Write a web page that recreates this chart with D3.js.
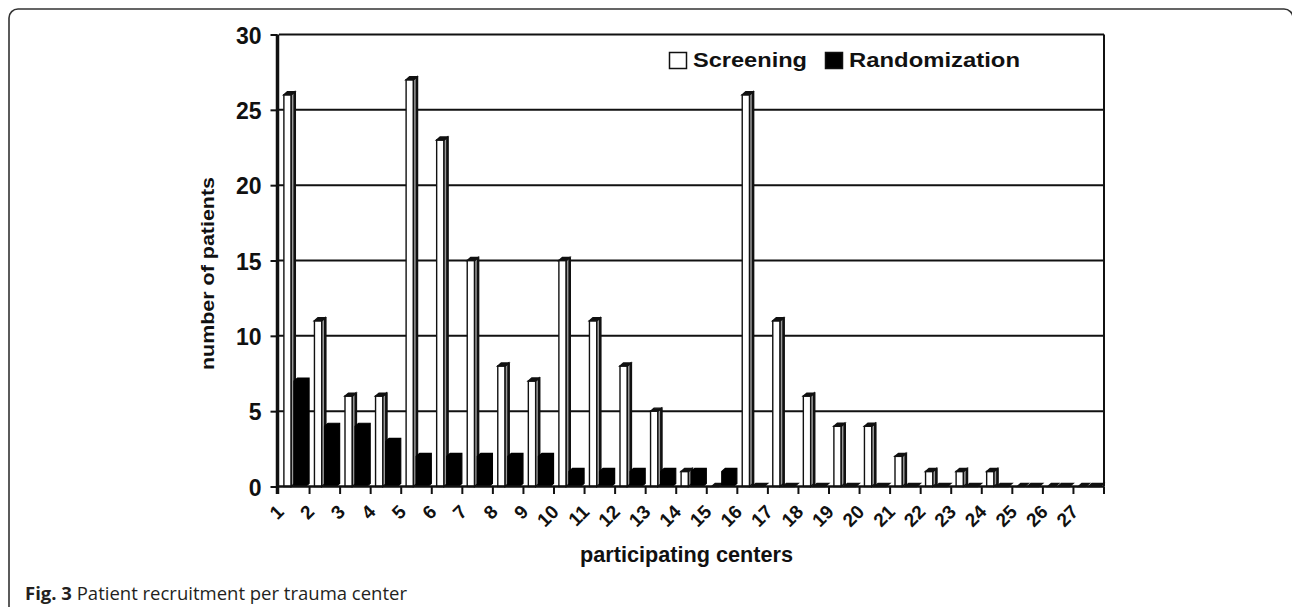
<!DOCTYPE html>
<html><head><meta charset="utf-8">
<script src="https://cdnjs.cloudflare.com/ajax/libs/d3/7.8.5/d3.min.js"></script>
<style>body{margin:0;background:#fff}svg{display:block}</style>
</head><body>
<script>
// ---- data ----
const centers = ["1","2","3","4","5","6","7","8","9","10","11","12","13","14","15","16","17","18","19","20","21","22","23","24","25","26","27"];
const screening = [26,11,6,6,27,23,15,8,7,15,11,8,5,1,0,26,11,6,4,4,2,1,1,1,0,0,0];
const randomization = [7,4,4,3,2,2,2,2,2,1,1,1,1,1,1,0,0,0,0,0,0,0,0,0,0,0,0];
const yTicks = [0,5,10,15,20,25,30];
const seriesNames = ["Screening","Randomization"];

const W = 1292, H = 607;
const svg = d3.select("body").append("svg").attr("width", W).attr("height", H);
const FONT = "'Liberation Sans', Arial, sans-serif";

// figure frame
svg.append("rect").attr("x", 9).attr("y", 9).attr("width", 1284).attr("height", 700)
  .attr("rx", 9).attr("fill", "none").attr("stroke", "#333").attr("stroke-width", 1.6);

const pL = 279, pR = 1104, pT = 34.5, pB = 486.5;
const x = d3.scaleBand().domain(centers).range([pL, pR]).paddingInner(0).paddingOuter(0);
const y = d3.scaleLinear().domain([0, 30]).range([pB, pT]);
const bw = x.bandwidth();

// gridlines
svg.append("g").selectAll("line").data(yTicks.filter(d => d > 0)).join("line")
  .attr("x1", pL).attr("x2", pR).attr("y1", d => y(d)).attr("y2", d => y(d))
  .attr("stroke", "#111").attr("stroke-width", 2);
// right border
svg.append("line").attr("x1", pR).attr("x2", pR).attr("y1", y(30)).attr("y2", y(0))
  .attr("stroke", "#111").attr("stroke-width", 2);

// y axis
const yAxis = svg.append("g").attr("transform", `translate(${pL - 1.5},0)`)
  .call(d3.axisLeft(y).tickValues(yTicks).tickSize(7).tickPadding(9));
yAxis.select(".domain").remove();
yAxis.selectAll(".tick line").attr("stroke", "#111").attr("stroke-width", 2);
yAxis.selectAll(".tick text").attr("font-family", FONT).attr("font-weight", "bold")
  .attr("font-size", 23).attr("fill", "#111").attr("dy", "0.38em");
svg.append("line").attr("x1", pL - 1.5).attr("x2", pL - 1.5).attr("y1", y(30)).attr("y2", y(0) + 7.5)
  .attr("stroke", "#111").attr("stroke-width", 3.5);

// bars (pseudo 3D)
const dx = 3.5, dy = 3;
const gBars = svg.append("g");
centers.forEach((c, i) => {
  const s = x(c);
  // screening (white)
  const v = screening[i];
  const x0 = s + 0.16 * bw, x1 = s + 0.40 * bw;
  const yt = y(v), y0 = y(0);
  if (v > 0) {
    gBars.append("rect").attr("x", x0).attr("y", yt).attr("width", x1 - x0).attr("height", y0 - yt)
      .attr("fill", "#fff").attr("stroke", "#111").attr("stroke-width", 1.4);
    gBars.append("polygon")
      .attr("points", [[x1, yt], [x1 + dx, yt - dy], [x1 + dx, y0 - dy], [x1, y0]].join(" "))
      .attr("fill", "#999").attr("stroke", "#111").attr("stroke-width", 1.4);
    gBars.append("line").attr("x1", x1 + dx).attr("x2", x1 + dx).attr("y1", yt - dy).attr("y2", y0)
      .attr("stroke", "#111").attr("stroke-width", 2.6);
  }
  gBars.append("polygon")
    .attr("points", [[x0, yt], [x0 + dx, yt - dy], [x1 + dx, yt - dy], [x1, yt]].join(" "))
    .attr("fill", "#111").attr("stroke", "#111").attr("stroke-width", 1.4);

  // randomization (black)
  const r = randomization[i];
  const bx0 = s + 0.49 * bw, bx1 = s + 0.87 * bw;
  const bt = y(r);
  if (r > 0) {
    gBars.append("polygon")
      .attr("points", [[bx0, y0], [bx0, bt], [bx0 + dx, bt - dy], [bx1 + dx, bt - dy], [bx1 + dx, y0 - dy], [bx1, y0]].join(" "))
      .attr("fill", "#000").attr("stroke", "#000").attr("stroke-width", 1.2);
  } else {
    gBars.append("polygon")
      .attr("points", [[bx0, bt], [bx0 + dx, bt - dy], [bx1 + dx, bt - dy], [bx1, bt]].join(" "))
      .attr("fill", "#111").attr("stroke", "#111").attr("stroke-width", 1.4);
  }
});

// x axis line and ticks at category boundaries
svg.append("line").attr("x1", pL).attr("x2", pR).attr("y1", pB).attr("y2", pB)
  .attr("stroke", "#111").attr("stroke-width", 2.6);
const bounds = centers.map(c => x(c)).concat([pR]);
svg.append("g").selectAll("line").data(bounds.slice(1)).join("line")
  .attr("x1", d => d).attr("x2", d => d).attr("y1", pB).attr("y2", pB + 7.5)
  .attr("stroke", "#111").attr("stroke-width", 2);
svg.append("g").selectAll("text").data(centers).join("text")
  .attr("transform", d => `translate(${x(d) + 6},${513}) rotate(-45)`)
  .attr("text-anchor", "end").attr("font-family", FONT).attr("font-weight", "bold")
  .attr("font-size", 19).attr("fill", "#111").text(d => d);

// axis titles
svg.append("text").attr("x", 686.5).attr("y", 562).attr("text-anchor", "middle")
  .attr("font-family", FONT).attr("font-weight", "bold").attr("font-size", 22)
  .attr("textLength", 213).attr("lengthAdjust", "spacingAndGlyphs")
  .attr("fill", "#111").text("participating centers");
svg.append("text").attr("transform", "translate(214,273.5) rotate(-90)").attr("text-anchor", "middle")
  .attr("font-family", FONT).attr("font-weight", "bold").attr("font-size", 19)
  .attr("textLength", 193).attr("lengthAdjust", "spacingAndGlyphs")
  .attr("fill", "#111").text("number of patients");

// legend
const legend = svg.append("g");
const legendItems = [
  {name: seriesNames[0], sx: 669.5, tx: 693, tl: 114, fill: "#fff"},
  {name: seriesNames[1], sx: 825.5, tx: 849, tl: 171, fill: "#000"}
];
legendItems.forEach(it => {
  legend.append("rect").attr("x", it.sx).attr("y", 52.5).attr("width", 17).attr("height", 16)
    .attr("fill", it.fill).attr("stroke", "#111").attr("stroke-width", 1.5);
  legend.append("text").attr("x", it.tx).attr("y", 67).attr("font-family", FONT)
    .attr("font-weight", "bold").attr("font-size", 21).attr("fill", "#111")
    .attr("textLength", it.tl).attr("lengthAdjust", "spacingAndGlyphs").text(it.name);
});

// caption
const cap = svg.append("text").attr("x", 25).attr("y", 600)
  .attr("font-family", "'Open Sans', 'Noto Sans', sans-serif").attr("font-size", 18.5).attr("fill", "#231f20");
cap.append("tspan").attr("font-weight", "bold").text("Fig. 3");
cap.append("tspan").text(" Patient recruitment per trauma center");
</script>
</body></html>
